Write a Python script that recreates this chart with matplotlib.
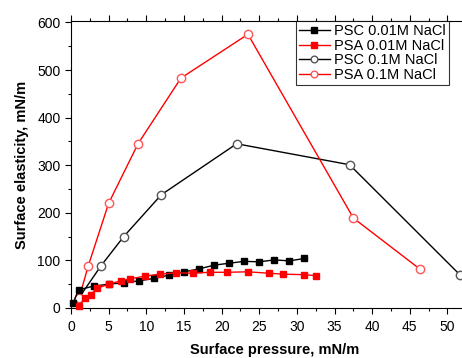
import matplotlib
matplotlib.use("Agg")
import matplotlib.pyplot as plt
from matplotlib.ticker import MultipleLocator

plt.rcParams['font.family'] = ['Liberation Sans', 'DejaVu Sans']

# PSC 0.01M NaCl (filled black squares)
psc_low_x = [0.3, 1.0, 3.0, 5.0, 7.0, 9.0, 11.0, 13.0, 15.0, 17.0, 19.0, 21.0, 23.0, 25.0, 27.0, 29.0, 31.0]
psc_low_y = [11, 38, 46, 50, 53, 57, 62, 69, 76, 82, 90, 94, 98, 97, 101, 99, 104]

# PSA 0.01M NaCl (filled red squares)
psa_low_x = [1.0, 1.9, 2.6, 3.4, 5.0, 6.6, 7.8, 9.8, 11.8, 14.0, 16.2, 18.4, 20.7, 23.5, 26.3, 28.2, 30.9, 32.5]
psa_low_y = [5, 20, 28, 41, 50, 57, 61, 67, 71, 74, 73, 75, 75, 76, 73, 71, 70, 68]

# PSC 0.1M NaCl (open dark circles)
psc_high_x = [1.0, 4.0, 7.0, 12.0, 22.0, 37.0, 51.7]
psc_high_y = [20, 89, 150, 238, 345, 301, 69]

# PSA 0.1M NaCl (open red circles)
psa_high_x = [1.1, 2.3, 5.0, 8.9, 14.6, 23.5, 37.5, 46.4]
psa_high_y = [22, 89, 220, 345, 483, 575, 189, 81]

fig = plt.figure(figsize=(4.62, 3.58), dpi=100)
ax = fig.add_axes([0.1537, 0.1397, 0.880, 0.8017])

ax.plot(psc_low_x, psc_low_y, '-s', color='black', lw=1.0, ms=5,
        label='PSC 0.01M NaCl', clip_on=False, zorder=3)
ax.plot(psa_low_x, psa_low_y, '-s', color='#ff0000', lw=1.0, ms=5,
        label='PSA 0.01M NaCl', clip_on=False, zorder=3)
ax.plot(psc_high_x, psc_high_y, '-o', color='black', lw=1.0, ms=6,
        mfc='white', mec='#555555', label='PSC 0.1M NaCl', clip_on=False)
ax.plot(psa_high_x, psa_high_y, '-o', color='#ff0000', lw=1.0, ms=6,
        mfc='white', mec='#ff5555', label='PSA 0.1M NaCl', clip_on=False)

ax.set_xlim(0, 54)
ax.set_ylim(0, 603)
ax.xaxis.set_major_locator(MultipleLocator(5))
ax.xaxis.set_minor_locator(MultipleLocator(2.5))
ax.yaxis.set_major_locator(MultipleLocator(100))
ax.yaxis.set_minor_locator(MultipleLocator(50))

ax.tick_params(which='both', direction='out', labelsize=10, width=0.8)
ax.tick_params(which='major', length=4)
ax.tick_params(which='minor', length=2.5)
ax.tick_params(axis='x', which='major', pad=5)
ax.tick_params(axis='x', which='both', top=True, labeltop=False)
for spine in ax.spines.values():
    spine.set_linewidth(0.8)

ax.set_xlabel('Surface pressure, mN/m', fontsize=10.5, fontweight='bold', labelpad=6)
ax.set_ylabel('Surface elasticity, mN/m', fontsize=10.5, fontweight='bold', labelpad=6)

leg = fig.legend(loc='upper left', bbox_to_anchor=(296 / 462, 1 - 21 / 358),
                 fontsize=10.5, frameon=True, fancybox=False, edgecolor='black',
                 handlelength=2.1, handletextpad=0.3, borderpad=0.2,
                 labelspacing=0.05, borderaxespad=0, markerscale=0.8)
leg.get_frame().set_linewidth(0.8)

fig.savefig('out.png', dpi=100)
